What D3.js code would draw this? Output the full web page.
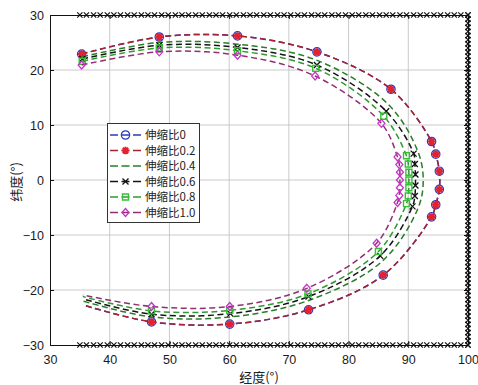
<!DOCTYPE html>
<html>
<head>
<meta charset="utf-8">
<script src="https://cdn.jsdelivr.net/npm/d3@7"></script>
<style>
  body { margin: 0; background: #fff; }
  svg { display: block; }
</style>
</head>
<body>
<svg id="chart" width="478" height="385"></svg>
<script>
// Axis ticks
const lonTicks = [30, 40, 50, 60, 70, 80, 90, 100];
const latTicks = [-30, -20, -10, 0, 10, 20, 30];

// Legend labels (stretch ratio)
const ratioNames = ["伸缩比0", "伸缩比0.2", "伸缩比0.4", "伸缩比0.6", "伸缩比0.8", "伸缩比1.0"];

// Ground tracks, longitude / latitude in degrees (ratio 0 and 0.2 coincide)
const lonOuter = [35.3, 48.3, 61.4, 74.7, 87.1, 93.9, 94.6, 95.2, 95.2, 94.6, 93.9, 85.8, 73.3, 60.1, 47.0, 35.5];
const latOuter = [22.9, 26.0, 26.2, 23.3, 16.5, 7.0, 4.7, 1.6, -1.7, -4.5, -6.7, -17.3, -23.6, -26.2, -25.8, -22.7];

const lon04 = [35.4, 48.3, 61.4, 74.6, 86.6, 91.6, 92.5, 91.6, 85.6, 73.3, 60.2, 47.0, 35.5];
const lat04 = [22.4, 25.0, 24.7, 21.8, 13.8, 5.2, 0.0, -5.2, -14.8, -21.9, -24.9, -24.9, -22.0];

const lon06 = [35.4, 48.3, 61.4, 74.7, 86.3, 90.9, 91.1, 91.2, 91.2, 91.1, 90.7, 85.3, 73.3, 60.2, 47.0, 35.5];
const lat06 = [22.0, 24.5, 24.1, 20.9, 12.5, 4.8, 2.9, 1.0, -1.0, -2.9, -4.8, -13.8, -21.2, -24.3, -24.4, -21.6];

const lon08 = [35.4, 48.3, 61.4, 74.5, 85.9, 89.7, 90.0, 90.1, 90.1, 90.1, 90.0, 89.7, 85.0, 73.2, 60.1, 47.0, 35.5];
const lat08 = [21.6, 24.0, 23.5, 20.3, 11.6, 4.4, 2.9, 1.4, 0.0, -1.4, -2.9, -4.3, -13.0, -20.7, -23.7, -23.8, -21.2];

const lon10 = [35.3, 48.3, 61.4, 74.4, 85.5, 88.2, 88.5, 88.6, 88.6, 88.6, 88.5, 88.2, 84.7, 73.0, 60.1, 47.0, 35.5];
const lat10 = [20.9, 23.3, 22.7, 18.9, 10.3, 4.2, 2.8, 1.4, 0.0, -1.4, -2.8, -4.1, -11.5, -19.7, -23.0, -23.0, -20.9];

// Region boundary sample points (top/bottom edges along longitude, right edge along latitude)
const edgeLon = [35.0, 36.1, 37.3, 38.4, 39.6, 40.7, 41.8, 43.0, 44.1, 45.3, 46.4, 47.5, 48.7, 49.8, 51.0, 52.1,
  53.2, 54.4, 55.5, 56.7, 57.8, 58.9, 60.1, 61.2, 62.4, 63.5, 64.6, 65.8, 66.9, 68.1, 69.2, 70.3, 71.5, 72.6,
  73.8, 74.9, 76.0, 77.2, 78.3, 79.5, 80.6, 81.7, 82.9, 84.0, 85.2, 86.3, 87.4, 88.6, 89.7, 90.9, 92.0, 93.1,
  94.3, 95.4, 96.6, 97.7, 98.8, 100.0];
const edgeLat = [30, 29.25, 28.5, 27.75, 27, 26.25, 25.5, 24.75, 24, 23.25, 22.5, 21.75, 21, 20.25, 19.5, 18.75,
  18, 17.25, 16.5, 15.75, 15, 14.25, 13.5, 12.75, 12, 11.25, 10.5, 9.75, 9, 8.25, 7.5, 6.75, 6, 5.25, 4.5, 3.75,
  3, 2.25, 1.5, 0.75, 0, -0.75, -1.5, -2.25, -3, -3.75, -4.5, -5.25, -6, -6.75, -7.5, -8.25, -9, -9.75, -10.5,
  -11.25, -12, -12.75, -13.5, -14.25, -15, -15.75, -16.5, -17.25, -18, -18.75, -19.5, -20.25, -21, -21.75,
  -22.5, -23.25, -24, -24.75, -25.5, -26.25, -27, -27.75, -28.5, -29.25, -30];
const edgeTopLat = 30, edgeBottomLat = -30, edgeRightLon = 100;

// ---- layout ----
const L = 50, R = 468, T = 15, B = 345;
const x = d3.scaleLinear().domain([30, 100]).range([L, R]);
const y = d3.scaleLinear().domain([-30, 30]).range([B, T]);
const svg = d3.select("#chart");
const tickFont = "'Liberation Sans', Arial, sans-serif";
const cjkFont = "'Noto Sans CJK SC', 'Noto Sans', sans-serif";

// grid
const grid = svg.append("g").attr("stroke", "#bcbcbc").attr("stroke-width", 0.8);
grid.selectAll(".gx").data(lonTicks.slice(1, -1)).join("line")
  .attr("x1", d => x(d)).attr("x2", d => x(d)).attr("y1", T).attr("y2", B);
grid.selectAll(".gy").data(latTicks.slice(1, -1)).join("line")
  .attr("x1", L).attr("x2", R).attr("y1", d => y(d)).attr("y2", d => y(d));

// axes (inward ticks, box on)
function styleAxis(g) {
  g.select(".domain").attr("stroke", "#111").attr("stroke-width", 1);
  g.selectAll(".tick line").attr("stroke", "#111");
  g.selectAll("text").attr("font-family", tickFont).attr("font-size", 12.5).attr("fill", "#1a1a1a");
}
svg.append("g").attr("transform", `translate(0,${B})`)
  .call(d3.axisBottom(x).tickValues(lonTicks).tickSize(-4).tickSizeOuter(0).tickPadding(10)).call(styleAxis);
svg.append("g").attr("transform", `translate(${L},0)`)
  .call(d3.axisLeft(y).tickValues(latTicks).tickSize(-4).tickSizeOuter(0).tickPadding(6)).call(styleAxis);
svg.append("g").attr("transform", `translate(0,${T})`)
  .call(d3.axisTop(x).tickValues(lonTicks).tickSize(-4).tickSizeOuter(0).tickFormat("")).call(styleAxis);
svg.append("g").attr("transform", `translate(${R},0)`)
  .call(d3.axisRight(y).tickValues(latTicks).tickSize(-4).tickSizeOuter(0).tickFormat("")).call(styleAxis);

// axis titles
svg.append("text").attr("x", (L + R) / 2).attr("y", 382)
  .attr("text-anchor", "middle").attr("font-family", cjkFont).attr("font-size", 13).attr("fill", "#222")
  .text("经度(°)");
svg.append("text").attr("transform", `translate(21,${(T + B) / 2 + 2}) rotate(-90)`)
  .attr("text-anchor", "middle").attr("font-family", cjkFont).attr("font-size", 13).attr("fill", "#222")
  .text("纬度(°)");

// marker shapes
const markers = {
  circle: { d: "M4.2,0A4.2,4.2 0 1,1 -4.2,0A4.2,4.2 0 1,1 4.2,0Z", color: "#2a3cc0", width: 1.2, fill: "none" },
  star: { d: "M-3.7,0H3.7M0,-3.7V3.7M-2.7,-2.7L2.7,2.7M-2.7,2.7L2.7,-2.7", color: "#e3212f", width: 2.1, fill: "none" },
  cross: { d: "M-3,-3L3,3M-3,3L3,-3", color: "#111", width: 1.3, fill: "none" },
  square: { d: "M-3,-3H3V3H-3Z", color: "#35c035", width: 1.4, fill: "none" },
  diamond: { d: "M0,-4L3.5,0L0,4L-3.5,0Z", color: "#c435c4", width: 1.3, fill: "none" },
  none: null
};

const series = [
  { name: ratioNames[0], lon: lonOuter, lat: latOuter, line: "#2a3cc0", marker: "circle" },
  { name: ratioNames[1], lon: lonOuter, lat: latOuter, line: "#a8222f", marker: "star" },
  { name: ratioNames[2], lon: lon04, lat: lat04, line: "#2a7d2a", marker: "none" },
  { name: ratioNames[3], lon: lon06, lat: lat06, line: "#141414", marker: "cross" },
  { name: ratioNames[4], lon: lon08, lat: lat08, line: "#2f9a2f", marker: "square" },
  { name: ratioNames[5], lon: lon10, lat: lat10, line: "#922e72", marker: "diamond" }
];

const line = d3.line().x(d => x(d[0])).y(d => y(d[1])).curve(d3.curveCatmullRom.alpha(0.5));

series.forEach(s => {
  const pts = s.lon.map((v, i) => [v, s.lat[i]]);
  const g = svg.append("g");
  g.append("path").attr("d", line(pts)).attr("fill", "none")
    .attr("stroke", s.line).attr("stroke-width", 1.5).attr("stroke-dasharray", "6,3.5");
  const m = markers[s.marker];
  if (m) {
    // the closing vertex of each track carries no marker
    g.selectAll(".mk").data(pts.slice(0, -1)).join("path")
      .attr("transform", d => `translate(${x(d[0])},${y(d[1])})`)
      .attr("d", m.d).attr("fill", m.fill).attr("stroke", m.color).attr("stroke-width", m.width);
  }
});

// region boundary
const edgePts = [
  ...edgeLon.map(v => [v, edgeTopLat]),
  ...edgeLat.map(v => [edgeRightLon, v]),
  ...edgeLon.map(v => [v, edgeBottomLat])
];
svg.append("g").selectAll("path").data(edgePts).join("path")
  .attr("transform", d => `translate(${x(d[0])},${y(d[1])})`)
  .attr("d", "M-2.6,-2.6L2.6,2.6M-2.6,2.6L2.6,-2.6")
  .attr("stroke", "#111").attr("stroke-width", 1.2);

// legend
const lg = svg.append("g");
lg.append("rect").attr("x", 107.5).attr("y", 123.5).attr("width", 92).attr("height", 99)
  .attr("fill", "#fff").attr("stroke", "#333").attr("stroke-width", 1);
series.forEach((s, i) => {
  const cy = 135 + i * 15.5;
  lg.append("line").attr("x1", 110).attr("x2", 141).attr("y1", cy).attr("y2", cy)
    .attr("stroke", s.line).attr("stroke-width", 1.4).attr("stroke-dasharray", "8,3.5");
  const m = markers[s.marker];
  if (m) {
    lg.append("path").attr("transform", `translate(125.5,${cy})`)
      .attr("d", m.d).attr("fill", m.fill).attr("stroke", m.color).attr("stroke-width", m.width);
  }
  lg.append("text").attr("x", 145).attr("y", cy).attr("dy", "0.36em")
    .attr("font-family", cjkFont).attr("font-size", 11.5).attr("fill", "#222").text(s.name);
});
</script>
</body>
</html>
